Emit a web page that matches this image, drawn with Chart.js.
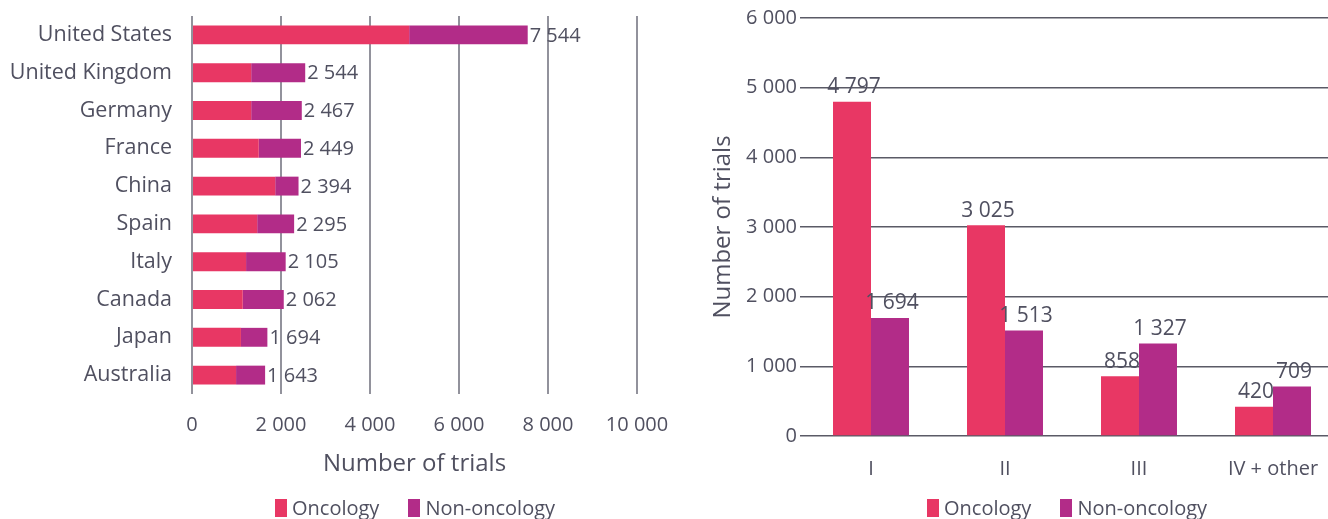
<!DOCTYPE html>
<html>
<head>
<meta charset="utf-8">
<script src="https://cdn.jsdelivr.net/npm/chart.js"></script>
<style>
  html, body { margin: 0; padding: 0; background: #fff; overflow: hidden; width: 1328px; height: 519px; }
  body { font-family: 'Open Sans', sans-serif; color: #505060; }
  .box { position: absolute; top: 0; }
  #left { left: 0; width: 680px; height: 519px; }
  #right { left: 690px; width: 650px; height: 519px; }
  .legend { position: absolute; top: 497px; display: flex; align-items: center; font-size: 20px; line-height: 22px; white-space: nowrap; }
  .legend span.sw { display: inline-block; width: 12px; height: 18px; margin-right: 5px; }
  .legend span.item { display: flex; align-items: center; margin-right: 29px; }
  #legendLeft { left: 275px; }
  #legendRight { left: 927px; }
</style>
</head>
<body>
<div class="box" id="left"><canvas id="countryChart" width="680" height="519"></canvas></div>
<div class="box" id="right"><canvas id="phaseChart" width="650" height="519"></canvas></div>
<div class="legend" id="legendLeft"></div>
<div class="legend" id="legendRight"></div>
<script>
// Trials by country (stacked) and by phase (grouped)
const countries = ['United States', 'United Kingdom', 'Germany', 'France', 'China', 'Spain', 'Italy', 'Canada', 'Japan', 'Australia'];
const countryOncology = [4880, 1330, 1330, 1500, 1870, 1465, 1215, 1140, 1100, 990];
const countryNonOncology = [2664, 1214, 1137, 949, 524, 830, 890, 922, 594, 653];

const phases = ['I', 'II', 'III', 'IV + other'];
const phaseOncology = [4797, 3025, 858, 420];
const phaseNonOncology = [1694, 1513, 1327, 709];

const seriesNames = ['Oncology', 'Non-oncology'];
const ONC = '#e83764';
const NON = '#b22c88';
const TEXT = '#505060';

Chart.defaults.font.family = "'Open Sans', sans-serif";
Chart.defaults.color = TEXT;
Chart.defaults.animation = false;

const fmt = v => Math.round(v).toString().replace(/\B(?=(\d{3})+(?!\d))/g, ' ');

// html legend under each chart
function buildLegend(el) {
  [ONC, NON].forEach((c, i) => {
    const item = document.createElement('span');
    item.className = 'item';
    item.innerHTML = '<span class="sw" style="background:' + c + '"></span>' + seriesNames[i];
    el.appendChild(item);
  });
}
buildLegend(document.getElementById('legendLeft'));
buildLegend(document.getElementById('legendRight'));

// totals at the end of each stacked bar
const totalLabels = {
  id: 'totalLabels',
  afterDatasetsDraw(chart) {
    const ctx = chart.ctx;
    const top = chart.getDatasetMeta(chart.data.datasets.length - 1);
    ctx.save();
    ctx.font = "20px 'Open Sans', sans-serif";
    ctx.fillStyle = TEXT;
    ctx.textAlign = 'left';
    ctx.textBaseline = 'middle';
    top.data.forEach((bar, i) => {
      const total = chart.data.datasets.reduce((s, d) => s + d.data[i], 0);
      ctx.fillText(fmt(total), bar.x + 2, bar.y + 1);
    });
    ctx.restore();
  }
};

// value above each bar
const valueLabels = {
  id: 'valueLabels',
  afterDatasetsDraw(chart) {
    const ctx = chart.ctx;
    ctx.save();
    ctx.font = "21px 'Open Sans', sans-serif";
    ctx.fillStyle = TEXT;
    ctx.textAlign = 'center';
    ctx.textBaseline = 'bottom';
    chart.data.datasets.forEach((ds, di) => {
      chart.getDatasetMeta(di).data.forEach((bar, i) => {
        ctx.fillText(fmt(ds.data[i]), bar.x + 2, bar.y - 4);
      });
    });
    ctx.restore();
  }
};

new Chart(document.getElementById('countryChart'), {
  type: 'bar',
  data: {
    labels: countries,
    datasets: [
      { label: seriesNames[0], data: countryOncology, backgroundColor: ONC, barPercentage: 0.5, categoryPercentage: 1 },
      { label: seriesNames[1], data: countryNonOncology, backgroundColor: NON, barPercentage: 0.5, categoryPercentage: 1 }
    ]
  },
  options: {
    indexAxis: 'y',
    responsive: false,
    layout: { padding: { top: 16, right: 43, bottom: 40, left: 0 } },
    plugins: { legend: { display: false }, tooltip: { enabled: false } },
    scales: {
      x: {
        stacked: true,
        min: 0, max: 10000,
        ticks: { stepSize: 2000, callback: v => fmt(v), font: { size: 20 }, padding: 19 },
        grid: { color: '#92929c', lineWidth: 2, drawTicks: false },
        border: { display: false },
        title: { display: true, text: 'Number of trials', font: { size: 24 }, padding: { top: 0, bottom: 0 } },
        afterFit: s => { s.height = 85; s.paddingLeft = 0; s.paddingRight = 0; }
      },
      y: {
        stacked: true,
        ticks: { font: { size: 21.5 }, padding: 12 },
        grid: { display: false },
        border: { display: false },
        afterFit: s => { s.width = 192; s.paddingTop = 0; s.paddingBottom = 0; }
      }
    }
  },
  plugins: [totalLabels]
});

new Chart(document.getElementById('phaseChart'), {
  type: 'bar',
  data: {
    labels: phases,
    datasets: [
      { label: seriesNames[0], data: phaseOncology, backgroundColor: ONC, barPercentage: 1, categoryPercentage: 0.567 },
      { label: seriesNames[1], data: phaseNonOncology, backgroundColor: NON, barPercentage: 1, categoryPercentage: 0.567 }
    ]
  },
  options: {
    responsive: false,
    layout: { padding: { top: 18, right: 0, bottom: 30, left: 19 } },
    plugins: { legend: { display: false }, tooltip: { enabled: false } },
    scales: {
      x: {
        ticks: { font: { size: 20 }, padding: 13 },
        grid: { display: false },
        border: { display: false },
        afterFit: s => { s.height = 53; s.paddingLeft = 0; s.paddingRight = 0; }
      },
      y: {
        min: 0, max: 6000,
        ticks: { stepSize: 1000, callback: v => fmt(v), font: { size: 20 }, padding: 3 },
        grid: { color: '#5a5a66', lineWidth: 1.5, drawTicks: true, tickLength: 4 },
        border: { display: false },
        title: { display: true, text: 'Number of trials', font: { size: 24 }, padding: 0 },
        afterFit: s => { s.width = 95; s.paddingTop = 0; s.paddingBottom = 0; }
      }
    }
  },
  plugins: [valueLabels]
});
</script>
</body>
</html>
